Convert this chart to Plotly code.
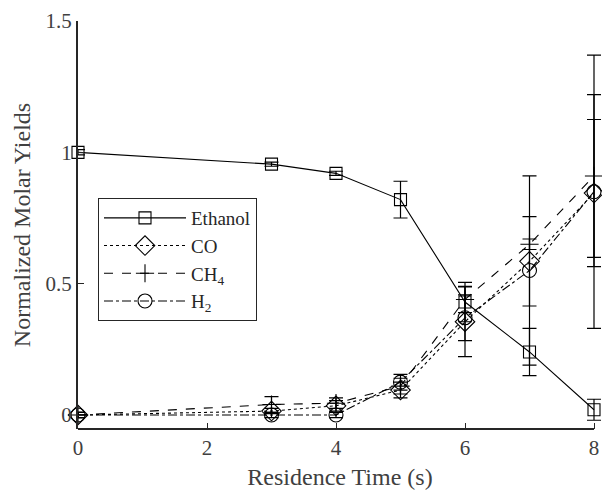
import plotly.graph_objects as go

time_s = [0, 3, 4, 5, 6, 7, 8]

ethanol = [1.0, 0.955, 0.92, 0.82, 0.43, 0.24, 0.02]
ethanol_err = [0.01, 0.008, 0.008, 0.07, 0.075, 0.09, 0.04]

co = [0.0, 0.015, 0.035, 0.095, 0.355, 0.585, 0.845]
co_err = [0.01, 0.01, 0.02, 0.03, 0.133, 0.17, 0.28]

ch4 = [0.0, 0.04, 0.045, 0.11, 0.44, 0.65, 0.91]
ch4_err = [0.01, 0.03, 0.02, 0.03, 0.05, 0.02, 0.31]

h2 = [0.0, 0.0, 0.0, 0.125, 0.37, 0.55, 0.85]
h2_err = [0.01, 0.01, 0.01, 0.03, 0.087, 0.36, 0.52]

x_ticks = [0, 2, 4, 6, 8]
y_ticks = [0, 0.5, 1, 1.5]
y_tick_labels = ["0", "0.5", "1", "1.5"]

FONT = "Liberation Serif, Times New Roman, serif"
AXIS_COLOR = "#262626"

series = [
    ("Ethanol", ethanol, ethanol_err, "solid", "square-open", 12),
    ("CO", co, co_err, "dot", "diamond-open", 15),
    ("CH<sub>4</sub>", ch4, ch4_err, "dash", "cross-thin-open", 13),
    ("H<sub>2</sub>", h2, h2_err, "dashdot", "circle-open", 14),
]

fig = go.Figure()
for name, y, err, dash, sym, size in series:
    fig.add_trace(go.Scatter(
        x=time_s, y=y, name=name, mode="lines+markers",
        line=dict(color="black", width=1.1, dash=dash),
        marker=dict(symbol=sym, size=size, color="black",
                    line=dict(color="black", width=1.1)),
        error_y=dict(type="data", array=err, visible=True,
                     color="black", thickness=1.2, width=7),
        cliponaxis=False,
    ))

# plot area spans to the page edge so the error-bar caps at x=8 are not clipped;
# the visible x-axis line stops at the last tick like the reference
x_max_visible = x_ticks[-1]
x_pad = 8 / 64.5

fig.add_shape(type="line", xref="x", yref="paper",
              x0=x_ticks[0], x1=x_max_visible, y0=0, y1=0,
              line=dict(color=AXIS_COLOR, width=2), layer="above")

fig.update_layout(
    width=602, height=490,
    autosize=False,
    margin=dict(l=78, r=0, t=21, b=61, autoexpand=False),
    paper_bgcolor="white", plot_bgcolor="white",
    font=dict(family=FONT, size=20, color=AXIS_COLOR),
    showlegend=True,
    legend=dict(
        x=(98 - 78) / 524, y=(429 - 198) / 408, xanchor="left", yanchor="top",
        bgcolor="white", bordercolor=AXIS_COLOR, borderwidth=1,
        font=dict(family=FONT, size=19, color=AXIS_COLOR),
        tracegroupgap=0, itemwidth=82,
    ),
    xaxis=dict(
        range=[0, x_max_visible + x_pad], tickvals=x_ticks,
        showgrid=False, zeroline=False, automargin=False,
        showline=False,
        ticks="inside", ticklen=6, tickwidth=1, tickcolor=AXIS_COLOR,
        ticklabelstandoff=4,
        tickfont=dict(family=FONT, size=21, color="#404040"),
        title=dict(text="Residence Time (s)", standoff=12,
                   font=dict(family=FONT, size=24, color="#404040")),
    ),
    yaxis=dict(
        range=[-0.0533, 1.5], tickvals=y_ticks, ticktext=y_tick_labels,
        showgrid=False, zeroline=False, automargin=False,
        showline=True, linecolor=AXIS_COLOR, linewidth=2,
        ticks="inside", ticklen=6, tickwidth=1, tickcolor=AXIS_COLOR,
        tickfont=dict(family=FONT, size=21, color="#404040"),
        title=dict(text="Normalized Molar Yields", standoff=8,
                   font=dict(family=FONT, size=24, color="#404040")),
    ),
)

fig.write_html("out.html")
